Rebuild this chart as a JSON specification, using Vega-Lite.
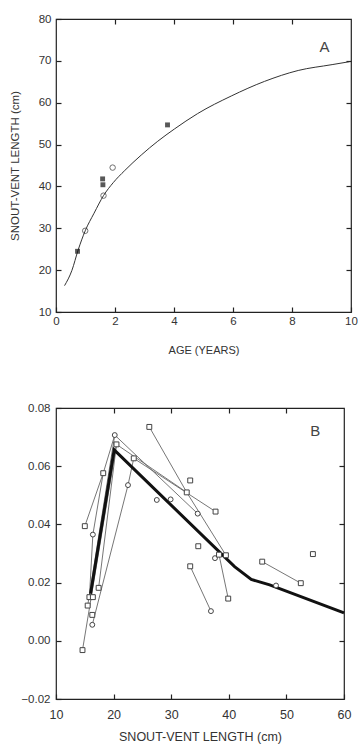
{
  "$schema": "https://vega.github.io/schema/vega-lite/v6.json",
  "background": "white",
  "padding": {"left": 8, "top": 12, "right": 0, "bottom": 0},
  "config": {
    "view": {"stroke": "#222", "strokeWidth": 1.2},
    "font": "Liberation Sans",
    "axis": {
      "grid": false, "domain": false, "tickSize": -5, "tickColor": "#222", "tickWidth": 1.2,
      "labelFont": "Liberation Sans", "labelFontSize": 11.5, "labelColor": "#333", "labelFlush": false,
      "titleFont": "Liberation Sans", "titleFontWeight": "normal", "titleFontSize": 11.5, "titleColor": "#333",
      "labelPadding": 8
    }
  },
  "datasets": {
    "curveA": [
      {"age": 0.29, "svl": 16.3}, {"age": 0.54, "svl": 19.95}, {"age": 0.75, "svl": 24.8},
      {"age": 0.99, "svl": 29.4}, {"age": 1.29, "svl": 33.6}, {"age": 1.61, "svl": 37.8},
      {"age": 1.94, "svl": 40.9}, {"age": 2.33, "svl": 43.8}, {"age": 2.89, "svl": 47.5},
      {"age": 3.45, "svl": 50.8}, {"age": 4.01, "svl": 53.7}, {"age": 4.8, "svl": 57.4},
      {"age": 5.94, "svl": 61.6}, {"age": 7.07, "svl": 65.1}, {"age": 8.21, "svl": 67.7},
      {"age": 9.36, "svl": 69.1}, {"age": 9.95, "svl": 69.8}
    ],
    "obsA": [
      {"age": 0.73, "svl": 24.5, "kind": "filled"},
      {"age": 0.99, "svl": 29.4, "kind": "open"},
      {"age": 1.61, "svl": 37.8, "kind": "open"},
      {"age": 1.59, "svl": 40.4, "kind": "filled"},
      {"age": 1.58, "svl": 41.8, "kind": "filled"},
      {"age": 1.92, "svl": 44.5, "kind": "open"},
      {"age": 3.78, "svl": 54.7, "kind": "filled"}
    ],
    "ptsB": [
      {"svl": 15.0, "rate": 0.0394, "shape": "square"},
      {"svl": 18.2, "rate": 0.0576, "shape": "square"},
      {"svl": 16.4, "rate": 0.0365, "shape": "circle"},
      {"svl": 20.2, "rate": 0.0707, "shape": "circle"},
      {"svl": 20.5, "rate": 0.0675, "shape": "square"},
      {"svl": 23.5, "rate": 0.0627, "shape": "square"},
      {"svl": 22.5, "rate": 0.0535, "shape": "circle"},
      {"svl": 26.2, "rate": 0.0735, "shape": "square"},
      {"svl": 27.5, "rate": 0.0484, "shape": "circle"},
      {"svl": 29.9, "rate": 0.0486, "shape": "circle"},
      {"svl": 33.3, "rate": 0.0551, "shape": "square"},
      {"svl": 32.7, "rate": 0.051, "shape": "square"},
      {"svl": 34.6, "rate": 0.0437, "shape": "circle"},
      {"svl": 37.7, "rate": 0.0444, "shape": "square"},
      {"svl": 34.7, "rate": 0.0325, "shape": "square"},
      {"svl": 37.6, "rate": 0.0284, "shape": "circle"},
      {"svl": 39.5, "rate": 0.0294, "shape": "square"},
      {"svl": 54.6, "rate": 0.0298, "shape": "square"},
      {"svl": 33.3, "rate": 0.0256, "shape": "square"},
      {"svl": 36.9, "rate": 0.0102, "shape": "circle"},
      {"svl": 39.9, "rate": 0.0145, "shape": "square"},
      {"svl": 45.8, "rate": 0.0272, "shape": "square"},
      {"svl": 48.2, "rate": 0.019, "shape": "circle"},
      {"svl": 52.5, "rate": 0.0198, "shape": "square"},
      {"svl": 14.6, "rate": -0.0032, "shape": "square"},
      {"svl": 16.3, "rate": 0.0055, "shape": "circle"},
      {"svl": 16.3, "rate": 0.0089, "shape": "square"},
      {"svl": 15.5, "rate": 0.0121, "shape": "square"},
      {"svl": 15.8, "rate": 0.015, "shape": "square"},
      {"svl": 16.4, "rate": 0.015, "shape": "square"},
      {"svl": 17.4, "rate": 0.0182, "shape": "square"},
      {"svl": 38.3, "rate": 0.0296, "shape": "square"}
    ],
    "tracksB": [
      {"track": "T1", "ord": 1, "svl": 15.0, "rate": 0.0394},
      {"track": "T1", "ord": 2, "svl": 18.2, "rate": 0.0576},
      {"track": "T1", "ord": 3, "svl": 20.2, "rate": 0.0707},
      {"track": "T1", "ord": 4, "svl": 34.6, "rate": 0.0437},
      {"track": "T2", "ord": 1, "svl": 14.6, "rate": -0.0032},
      {"track": "T2", "ord": 2, "svl": 20.5, "rate": 0.0675},
      {"track": "T2", "ord": 3, "svl": 32.7, "rate": 0.051},
      {"track": "T3", "ord": 1, "svl": 16.3, "rate": 0.0055},
      {"track": "T3", "ord": 2, "svl": 22.5, "rate": 0.0535},
      {"track": "T3", "ord": 3, "svl": 23.5, "rate": 0.0627},
      {"track": "T3", "ord": 4, "svl": 37.7, "rate": 0.0444},
      {"track": "T4", "ord": 1, "svl": 15.8, "rate": 0.015},
      {"track": "T4", "ord": 2, "svl": 16.4, "rate": 0.0365},
      {"track": "T4", "ord": 3, "svl": 18.2, "rate": 0.0576},
      {"track": "T5", "ord": 1, "svl": 17.4, "rate": 0.0182},
      {"track": "T5", "ord": 2, "svl": 20.5, "rate": 0.0675},
      {"track": "T6", "ord": 1, "svl": 26.2, "rate": 0.0735},
      {"track": "T6", "ord": 2, "svl": 32.7, "rate": 0.051},
      {"track": "T6", "ord": 3, "svl": 39.5, "rate": 0.0294},
      {"track": "T7", "ord": 1, "svl": 38.3, "rate": 0.0296},
      {"track": "T7", "ord": 2, "svl": 39.9, "rate": 0.0145},
      {"track": "T8", "ord": 1, "svl": 33.3, "rate": 0.0256},
      {"track": "T8", "ord": 2, "svl": 36.9, "rate": 0.0102},
      {"track": "T9", "ord": 1, "svl": 45.8, "rate": 0.0272},
      {"track": "T9", "ord": 2, "svl": 52.5, "rate": 0.0198},
      {"track": "T10", "ord": 1, "svl": 15.5, "rate": 0.0121},
      {"track": "T10", "ord": 2, "svl": 20.2, "rate": 0.0707}
    ],
    "meanB": [
      {"svl": 16.0, "rate": 0.0162}, {"svl": 20.1, "rate": 0.0656},
      {"svl": 41.0, "rate": 0.0255}, {"svl": 43.9, "rate": 0.0211},
      {"svl": 47.1, "rate": 0.0192}, {"svl": 60.0, "rate": 0.0096}
    ]
  },
  "spacing": 44,
  "vconcat": [
    {
      "width": 295,
      "height": 293,
      "resolve": {"axis": {"x": "independent", "y": "independent"}},
      "layer": [
        {
          "data": {"name": "curveA"},
          "mark": {"type": "line", "color": "#333", "strokeWidth": 1, "interpolate": "monotone"},
          "encoding": {
            "x": {"field": "age", "type": "quantitative", "scale": {"domain": [0, 10], "nice": false},
                  "axis": {"values": [0, 2, 4, 6, 8, 10], "title": "AGE (YEARS)", "titlePadding": 18, "titleFontSize": 11}},
            "y": {"field": "svl", "type": "quantitative", "scale": {"domain": [10, 80], "nice": false, "zero": false},
                  "axis": {"values": [10, 20, 30, 40, 50, 60, 70, 80], "title": "SNOUT-VENT LENGTH (cm)", "titlePadding": 18, "labelPadding": 10}}
          }
        },
        {
          "data": {"name": "obsA"},
          "transform": [{"filter": "datum.kind === 'open'"}],
          "mark": {"type": "point", "shape": "circle", "filled": false, "color": "#333", "size": 30, "strokeWidth": 1},
          "encoding": {
            "x": {"field": "age", "type": "quantitative", "axis": {"orient": "top", "values": [2, 4, 6, 8], "labels": false, "title": null}},
            "y": {"field": "svl", "type": "quantitative", "axis": {"orient": "right", "values": [20, 30, 40, 50, 60, 70], "labels": false, "title": null}}
          }
        },
        {
          "data": {"name": "obsA"},
          "transform": [{"filter": "datum.kind === 'filled'"}],
          "mark": {"type": "point", "shape": "square", "filled": true, "color": "#111", "size": 24},
          "encoding": {
            "x": {"field": "age", "type": "quantitative", "axis": null},
            "y": {"field": "svl", "type": "quantitative", "axis": null}
          }
        },
        {
          "data": {"values": [{"age": 9.1, "svl": 73.4, "t": "A"}]},
          "mark": {"type": "text", "fontSize": 15, "color": "#444", "font": "Liberation Sans"},
          "encoding": {
            "x": {"field": "age", "type": "quantitative", "axis": null},
            "y": {"field": "svl", "type": "quantitative", "axis": null},
            "text": {"field": "t"}
          }
        }
      ]
    },
    {
      "width": 288,
      "height": 291,
      "resolve": {"axis": {"x": "independent", "y": "independent"}},
      "layer": [
        {
          "data": {"name": "tracksB"},
          "mark": {"type": "line", "color": "#666", "strokeWidth": 0.9},
          "encoding": {
            "x": {"field": "svl", "type": "quantitative", "scale": {"domain": [10, 60], "nice": false, "zero": false},
                  "axis": {"values": [10, 20, 30, 40, 50, 60], "title": "SNOUT-VENT LENGTH (cm)", "labelPadding": 14, "titlePadding": 10, "labelFontSize": 12.5, "titleFontSize": 12.5}},
            "y": {"field": "rate", "type": "quantitative", "scale": {"domain": [-0.02, 0.08], "nice": false, "zero": false},
                  "axis": {"values": [-0.02, 0, 0.02, 0.04, 0.06, 0.08], "format": ".2f", "title": null, "labelPadding": 11}},
            "detail": {"field": "track"},
            "order": {"field": "ord"}
          }
        },
        {
          "data": {"name": "meanB"},
          "mark": {"type": "line", "color": "#111", "strokeWidth": 3},
          "encoding": {
            "x": {"field": "svl", "type": "quantitative", "axis": {"orient": "top", "values": [20, 30, 40, 50], "labels": false, "title": null}},
            "y": {"field": "rate", "type": "quantitative", "axis": {"orient": "right", "values": [0, 0.02, 0.04, 0.06], "labels": false, "title": null}}
          }
        },
        {
          "data": {"name": "ptsB"},
          "mark": {"type": "point", "filled": true, "fill": "white", "stroke": "#444", "strokeWidth": 1, "size": 24, "opacity": 1},
          "encoding": {
            "x": {"field": "svl", "type": "quantitative", "axis": null},
            "y": {"field": "rate", "type": "quantitative", "axis": null},
            "shape": {"field": "shape", "type": "nominal", "scale": {"domain": ["square", "circle"], "range": ["square", "circle"]}, "legend": null}
          }
        },
        {
          "data": {"values": [{"svl": 55.0, "rate": 0.072, "t": "B"}]},
          "mark": {"type": "text", "fontSize": 15, "color": "#444", "font": "Liberation Sans"},
          "encoding": {
            "x": {"field": "svl", "type": "quantitative", "axis": null},
            "y": {"field": "rate", "type": "quantitative", "axis": null},
            "text": {"field": "t"}
          }
        }
      ]
    }
  ]
}
